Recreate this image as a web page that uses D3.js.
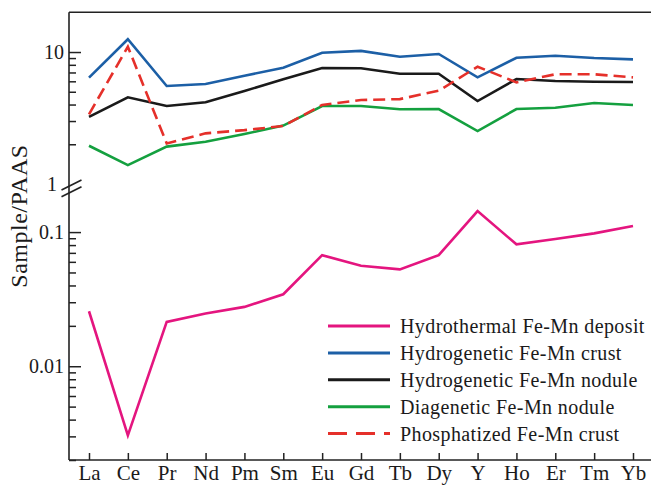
<!DOCTYPE html>
<html>
<head>
<meta charset="utf-8">
<script src="https://cdn.jsdelivr.net/npm/d3@7/dist/d3.min.js"></script>
<style>
  html, body { margin: 0; padding: 0; background: #fff; }
  svg { display: block; }
  svg text { font-family: "Liberation Serif", "Times New Roman", Times, Tinos, "DejaVu Serif", "Noto Serif", serif !important; fill: #1a1a1a; }
</style>
</head>
<body>
<svg id="chart" width="651" height="487"></svg>
<script>
// ---- data ----
const categories = ["La","Ce","Pr","Nd","Pm","Sm","Eu","Gd","Tb","Dy","Y","Ho","Er","Tm","Yb"];
const hydrothermalDeposit = [0.0257,0.00305,0.0214,0.0247,0.0277,0.0344,0.0673,0.0561,0.0527,0.0673,0.1435,0.081,0.0887,0.0978,0.111];
const hydrogeneticCrust   = [6.39,12.5,5.53,5.72,6.61,7.6,9.88,10.2,9.2,9.66,6.43,9.05,9.37,9.0,8.8];
const hydrogeneticNodule  = [3.23,4.54,3.90,4.16,5.07,6.21,7.56,7.53,6.85,6.85,4.25,6.24,6.03,5.96,5.93];
const diageneticNodule    = [1.95,1.39,1.92,2.09,2.39,2.77,3.90,3.90,3.68,3.70,2.52,3.70,3.78,4.11,3.97];
const phosphatizedCrust   = [3.37,10.97,2.03,2.42,2.56,2.75,3.97,4.33,4.40,5.09,7.74,5.89,6.78,6.78,6.43];
const seriesNames = ["Hydrothermal Fe-Mn deposit","Hydrogenetic Fe-Mn crust","Hydrogenetic Fe-Mn nodule","Diagenetic Fe-Mn nodule","Phosphatized Fe-Mn crust"];
const upperMajorTicks = [10];
const upperMinorTicks = [2,3,4,5,6,7,8,9];
const lowerMajorTicks = [0.01, 0.1];
const lowerMinorTicks = [0.002,0.003,0.004,0.005,0.006,0.007,0.008,0.009,0.02,0.03,0.04,0.05,0.06,0.07,0.08,0.09];
const breakLabel = "1";
const yTitle = "Sample/PAAS";

// ---- styles ----
const series = [
  {name: seriesNames[0], values: hydrothermalDeposit, color: "#e4157f", dash: null, seg: "lower"},
  {name: seriesNames[1], values: hydrogeneticCrust,   color: "#1c5fa6", dash: null, seg: "upper"},
  {name: seriesNames[2], values: hydrogeneticNodule,  color: "#1a1a1a", dash: null, seg: "upper"},
  {name: seriesNames[3], values: diageneticNodule,    color: "#14a03f", dash: null, seg: "upper"},
  {name: seriesNames[4], values: phosphatizedCrust,   color: "#e5302a", dash: "12,6", seg: "upper"}
];

const FONT = "'Liberation Serif', 'Times New Roman', Times, Tinos, 'DejaVu Serif', serif";
const svg = d3.select("#chart");
const axisX = 69, topY = 12.3, bottomY = 460, rightX = 651;

const x = d3.scalePoint().domain(categories).range([89, 633]);
const yUpper = d3.scaleLog().domain([1, 20]).range([184, topY]);
const yLower = d3.scaleLog().domain([0.002, 0.2]).range([bottomY, 191.7]);

// lines
series.forEach(s => {
  const y = s.seg === "upper" ? yUpper : yLower;
  const line = d3.line().x((d, i) => x(categories[i])).y(d => y(d));
  svg.append("path")
    .attr("d", line(s.values))
    .attr("fill", "none")
    .attr("stroke", s.color)
    .attr("stroke-width", 2.6)
    .attr("stroke-linejoin", "miter")
    .attr("stroke-dasharray", s.dash);
});

// frame lines
svg.append("line").attr("x1", axisX).attr("x2", rightX).attr("y1", topY).attr("y2", topY)
  .attr("stroke", "#222").attr("stroke-width", 1.6);
svg.append("line").attr("x1", axisX).attr("x2", axisX).attr("y1", topY).attr("y2", bottomY)
  .attr("stroke", "#222").attr("stroke-width", 1.6);
svg.append("line").attr("x1", axisX).attr("x2", rightX).attr("y1", bottomY).attr("y2", bottomY)
  .attr("stroke", "#222").attr("stroke-width", 1.6);

function styleAxis(g) {
  g.attr("font-family", FONT);
  g.select(".domain").remove();
  g.selectAll(".tick line").attr("stroke", "#222").attr("stroke-width", 1.5);
  g.selectAll(".tick text").attr("fill", "#1a1a1a");
}

// y axes
const gy = svg.append("g").attr("transform", `translate(${axisX},0)`);
gy.append("g").call(d3.axisLeft(yUpper).tickValues(upperMajorTicks).tickFormat(d3.format("")).tickSizeInner(-12).tickSizeOuter(0).tickPadding(5))
  .call(styleAxis).selectAll(".tick text").attr("font-size", 20);
gy.append("g").call(d3.axisLeft(yUpper).tickValues(upperMinorTicks).tickFormat("").tickSizeInner(-7).tickSizeOuter(0))
  .call(styleAxis);
gy.append("g").call(d3.axisLeft(yLower).tickValues(lowerMajorTicks).tickFormat(d => d === 0.1 ? "0.1" : "0.01").tickSizeInner(-12).tickSizeOuter(0).tickPadding(5))
  .call(styleAxis).selectAll(".tick text").attr("font-size", 20);
gy.append("g").call(d3.axisLeft(yLower).tickValues(lowerMinorTicks).tickFormat("").tickSizeInner(-7).tickSizeOuter(0))
  .call(styleAxis);

// break label and marks
svg.append("text").attr("x", 57).attr("y", yUpper(1)).attr("dy", "0.35em")
  .attr("text-anchor", "end").attr("font-size", 20).text(breakLabel);
[[190, 180], [196.7, 186.7]].forEach(([a, b]) => {
  svg.append("line").attr("x1", 61.5).attr("y1", a).attr("x2", 81.5).attr("y2", b)
    .attr("stroke", "#222").attr("stroke-width", 1.6);
});

// x axis
svg.append("g").attr("transform", `translate(0,${bottomY})`)
  .call(d3.axisBottom(x).tickSizeInner(-7).tickSizeOuter(0).tickPadding(5))
  .call(styleAxis)
  .selectAll(".tick text").attr("font-size", 21);

// y title
svg.append("text")
  .attr("transform", `translate(27,216) rotate(-90)`)
  .attr("text-anchor", "middle")
  .attr("font-size", 24)
  .style("letter-spacing", "0.5px")
  .text(yTitle);

// legend
const legY0 = 326, legDy = 26.9;
series.forEach((s, i) => {
  const yy = legY0 + i * legDy;
  svg.append("line").attr("x1", 328).attr("x2", 390).attr("y1", yy).attr("y2", yy)
    .attr("stroke", s.color).attr("stroke-width", 3)
    .attr("stroke-dasharray", s.dash ? "19,9" : null);
  svg.append("text").attr("x", 400).attr("y", yy).attr("dy", "0.35em")
    .attr("font-size", 20).style("letter-spacing", "0.4px").text(s.name);
});
</script>
</body>
</html>
